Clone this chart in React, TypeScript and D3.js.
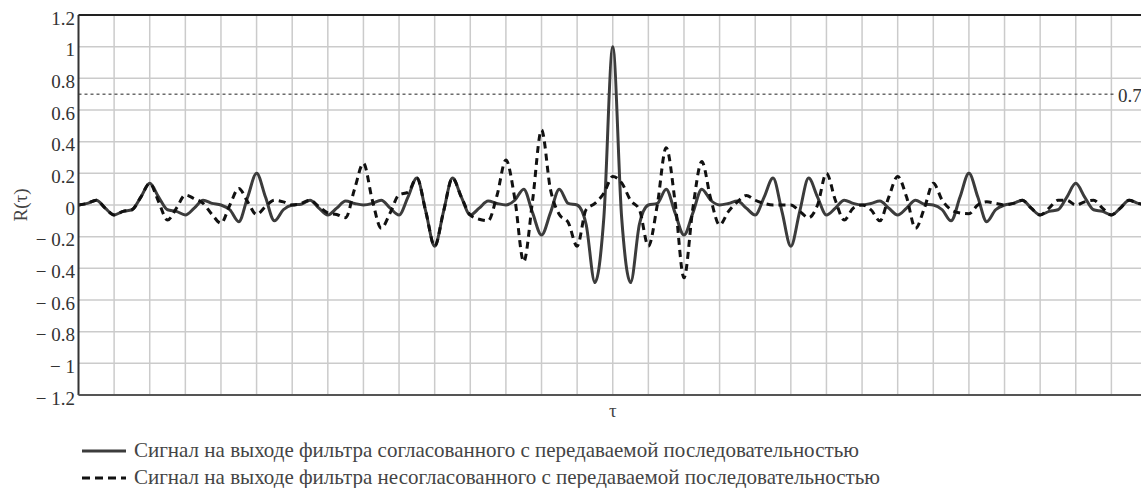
import React from "react";
import * as d3 from "d3";

// τ grid, quarter-step from -15 to 15
const tau: number[] = d3.range(0, 121).map(i => -15 + i * 0.25);

// matched filter output (rows start at integer τ)
const matched: number[] = [
  0.00, 0.01, 0.03, -0.02,
  -0.063, -0.04, -0.03, 0.05,
  0.137, 0.05, -0.03, -0.04,
  -0.063, -0.02, 0.03, 0.01,
  0.00, -0.03, -0.105, 0.05,
  0.20, 0.05, -0.10, -0.03,
  0.00, 0.005, 0.03, -0.02,
  -0.063, -0.02, 0.025, 0.01,
  0.00, 0.01, 0.03, -0.02,
  -0.063, 0.05, 0.17, -0.04,
  -0.26, -0.04, 0.17, 0.05,
  -0.063, -0.02, 0.025, 0.01,
  0.00, 0.03, 0.10, -0.05,
  -0.19, -0.05, 0.10, 0.01,
  0.00, -0.12, -0.49, -0.08,
  1.00, -0.08, -0.49, -0.12,
  0.00, 0.01, 0.10, -0.05,
  -0.19, -0.05, 0.10, 0.03,
  0.00, 0.01, 0.025, -0.02,
  -0.063, 0.05, 0.17, -0.04,
  -0.26, -0.04, 0.17, 0.05,
  -0.063, -0.02, 0.03, 0.01,
  0.00, 0.01, 0.025, -0.02,
  -0.063, -0.02, 0.03, 0.005,
  0.00, -0.03, -0.10, 0.05,
  0.20, 0.05, -0.105, -0.03,
  0.00, 0.01, 0.03, -0.02,
  -0.063, -0.04, -0.03, 0.05,
  0.137, 0.05, -0.03, -0.04,
  -0.063, -0.02, 0.03, 0.01,
  0.00,
];

// mismatched filter output
const mismatched: number[] = [
  0.00, 0.01, 0.03, -0.02,
  -0.063, -0.04, -0.03, 0.05,
  0.137, 0.02, -0.095, -0.02,
  0.063, 0.04, 0.01, -0.06,
  -0.115, 0.00, 0.105, 0.02,
  -0.06, -0.01, 0.03, 0.02,
  0.00, 0.01, 0.03, -0.01,
  -0.05, -0.06, -0.08, 0.10,
  0.263, 0.03, -0.147, -0.05,
  0.065, 0.08, 0.17, -0.04,
  -0.26, -0.04, 0.17, 0.05,
  -0.063, -0.09, -0.10, 0.06,
  0.284, 0.04, -0.358, 0.03,
  0.474, 0.10, -0.06, -0.11,
  -0.26, -0.03, 0.01, 0.074,
  0.18, 0.14, 0.03, -0.03,
  -0.26, 0.00, 0.362, 0.02,
  -0.46, -0.02, 0.274, 0.04,
  -0.126, -0.04, 0.02, 0.06,
  0.03, 0.01, 0.00, 0.00,
  0.00, -0.04, -0.08, 0.00,
  0.20, 0.03, -0.095, -0.02,
  0.00, -0.03, -0.10, 0.05,
  0.18, 0.05, -0.147, -0.02,
  0.137, 0.03, -0.03, -0.05,
  -0.055, 0.00, 0.02, 0.01,
  0.00, 0.01, 0.03, -0.02,
  -0.063, -0.02, 0.03, 0.03,
  0.00, 0.02, 0.03, -0.02,
  -0.063, -0.02, 0.03, 0.01,
  0.00,
];

const yTicks = [-1.2, -1, -0.8, -0.6, -0.4, -0.2, 0, 0.2, 0.4, 0.6, 0.8, 1, 1.2];
const xGrid = d3.range(-14, 15);
const threshold = 0.7;
const legendLabels = [
  "Сигнал на выходе фильтра согласованного с передаваемой последовательностью",
  "Сигнал на выходе фильтра несогласованного с передаваемой последовательностью",
];

const W = 1141;
const H = 488;
const left = 78.5;
const right = 1147;
const top = 15;
const bottom = 395;
const font = "Liberation Serif";

function fmt(v: number) {
  const s = String(Math.abs(Math.round(v * 10) / 10));
  return v < 0 ? "\u2212 " + s : s;
}

export default function App() {
  const x = d3.scaleLinear().domain([-15, 15]).range([left, right]);
  const y = d3.scaleLinear().domain([-1.2, 1.2]).range([bottom, top]);

  const line = d3.line<number>()
    .x((d, i) => x(tau[i]))
    .y(d => y(d))
    .curve(d3.curveMonotoneX);

  return (
    <svg width={W} height={H} style={{ position: "absolute", left: 0, top: 0 }}>
      <defs>
        <clipPath id="plot">
          <rect x={left} y={top - 2} width={right - left} height={bottom - top + 4} />
        </clipPath>
      </defs>
      <g>
        {yTicks.map(t => (
          <line key={"h" + t} x1={left} x2={right} y1={y(t)} y2={y(t)} stroke="#cbcbcb" strokeWidth={1.5} />
        ))}
        {xGrid.map(t => (
          <line key={"v" + t} x1={x(t)} x2={x(t)} y1={top} y2={bottom} stroke="#cbcbcb" strokeWidth={1.5} />
        ))}
      </g>
      <line x1={left} x2={1116} y1={y(threshold)} y2={y(threshold)} stroke="#222" strokeWidth={1} strokeDasharray="3,3" />
      <text x={1118} y={y(threshold) + 7.5} fontFamily={font} fontSize={19} fill="#333">0.7</text>
      <g clipPath="url(#plot)">
        <path d={line(matched) || ""} fill="none" stroke="#3c3c3c" strokeWidth={3} strokeLinejoin="round" />
        <path d={line(mismatched) || ""} fill="none" stroke="#111" strokeWidth={3} strokeDasharray="7,5" />
      </g>
      <line x1={left} x2={left} y1={top} y2={bottom} stroke="#333" strokeWidth={2} />
      <line x1={left} x2={right} y1={top} y2={top} stroke="#222" strokeWidth={2} />
      <line x1={left} x2={right} y1={bottom} y2={bottom} stroke="#555" strokeWidth={2} />
      {yTicks.map(t => (
        <text key={"t" + t} x={75} y={y(t) + 9.5} textAnchor="end" fontFamily={font} fontSize={19} fill="#333">
          {fmt(t)}
        </text>
      ))}
      <text transform={`translate(27,${y(0)}) rotate(-90)`} textAnchor="middle" fontFamily={font} fontSize={19} fill="#444">R(τ)</text>
      <text x={x(0)} y={417} textAnchor="middle" fontFamily={font} fontSize={19} fill="#444">τ</text>
      {legendLabels.map((l, i) => (
        <g key={l}>
          <line x1={82} x2={126} y1={451 + i * 27} y2={451 + i * 27}
            stroke={i === 0 ? "#3c3c3c" : "#111"} strokeWidth={3}
            strokeDasharray={i === 0 ? undefined : "8,5"} />
          <text x={134} y={457 + i * 27} fontFamily={font} fontSize={21} fill="#444">{l}</text>
        </g>
      ))}
    </svg>
  );
}
